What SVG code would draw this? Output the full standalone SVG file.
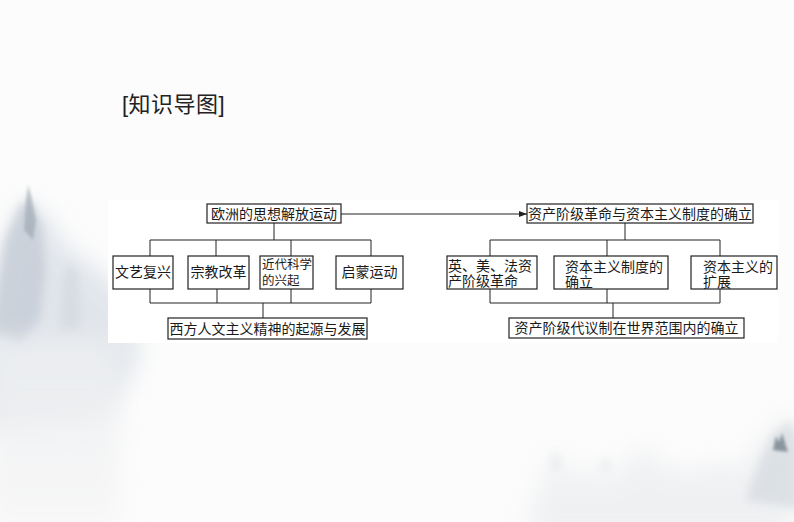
<svg xmlns="http://www.w3.org/2000/svg" width="794" height="522" viewBox="0 0 794 522">
<defs>
<style>
.box{fill:#fff;stroke:#222;stroke-width:1.2}
.t{font-family:"Liberation Serif","Noto Sans CJK SC",serif;font-size:14px;fill:#1a1a1a}
.ln{fill:none;stroke:#222;stroke-width:1}
.title{font-family:"Liberation Sans","Noto Sans CJK SC",sans-serif;font-size:22px;fill:#222;letter-spacing:0.5px}
</style>
<marker id="arr" markerWidth="8" markerHeight="6" refX="8" refY="3" orient="auto" markerUnits="userSpaceOnUse">
<path d="M0,0 L8,3 L0,6 Z" fill="#222"/>
</marker>
<linearGradient id="lowfog" x1="0" y1="0" x2="0" y2="1">
<stop offset="0" stop-color="#eceef0" stop-opacity="0.9"/>
<stop offset="1" stop-color="#f4f4f5" stop-opacity="0.6"/>
</linearGradient>
<filter id="soft" x="-100%" y="-100%" width="300%" height="300%"><feGaussianBlur stdDeviation="12"/></filter>
<filter id="mid" x="-100%" y="-100%" width="300%" height="300%"><feGaussianBlur stdDeviation="5"/></filter>
<filter id="fine" x="-100%" y="-100%" width="300%" height="300%"><feGaussianBlur stdDeviation="1.5"/></filter>
</defs>

<g id="background">
<rect x="0" y="0" width="794" height="522" fill="#fcfcfc"/>
<path d="M-20,350 L0,250 L25,200 L45,215 L70,250 L100,270 L130,300 L140,360 L100,420 L-20,430 Z" fill="#dde2e8" opacity="0.85" filter="url(#soft)"/>
<path d="M-10,330 L5,240 L20,205 L30,200 L42,225 L46,270 L40,320 L20,345 Z" fill="#c3cbd5" opacity="0.75" filter="url(#mid)"/>
<path d="M24,230 L26,200 L28,185 L31,195 L36,220 L33,240 Z" fill="#9aa3ad" opacity="0.6" filter="url(#fine)"/>
<path d="M60,330 L65,270 L72,262 L78,275 L80,330 Z" fill="#cfd5dc" opacity="0.6" filter="url(#mid)"/>
<rect x="-10" y="340" width="130" height="190" fill="url(#lowfog)" filter="url(#soft)"/>
<path d="M530,510 L545,475 L555,448 L565,470 L580,482 L590,458 L600,480 L620,472 L640,444 L660,465 L690,472 L720,462 L740,472 L760,440 L794,410 L794,540 L530,540 Z" fill="#eceef0" opacity="0.8" filter="url(#soft)"/>
<path d="M550,470 L555,448 L562,468 Z M600,470 L605,455 L612,472 Z" fill="#dfe3e7" opacity="0.7" filter="url(#mid)"/>
<path d="M745,500 L760,460 L772,435 L790,420 L800,440 L800,510 Z" fill="#d8dde2" opacity="0.8" filter="url(#mid)"/>
<path d="M773,450 L776,436 L779,442 L782,433 L786,446 L788,452 Z" fill="#6f7b86" opacity="0.75" filter="url(#fine)"/>
<rect x="108" y="200" width="670" height="143" fill="#ffffff"/>
</g>

<g id="title">
<text class="title" x="122" y="112">[知识导图]</text>
</g>

<g id="connectors">
<line class="ln" x1="341" y1="214" x2="527" y2="214" marker-end="url(#arr)"/>
<path class="ln" d="M274,223 V240 M150,240 H371 M150,240 V256 M216,240 V256 M291,240 V256 M371,240 V256"/>
<path class="ln" d="M150,289 V303 M217,289 V303 M291,289 V303 M371,289 V303 M150,303 H371 M263,303 V318"/>
<path class="ln" d="M625,223 V240 M490,240 H720 M490,240 V256 M607,240 V256 M720,240 V256"/>
<path class="ln" d="M490,289 V303 M607,289 V303 M720,289 V303 M490,303 H720 M613,303 V318"/>
</g>

<g id="n-europe">
<rect class="box" x="207" y="204" width="134" height="19"/>
<text class="t" x="274" y="219" text-anchor="middle">欧洲的思想解放运动</text>
</g>
<g id="n-bourgeois">
<rect class="box" x="527" y="204" width="226" height="19"/>
<text class="t" x="640" y="219" text-anchor="middle">资产阶级革命与资本主义制度的确立</text>
</g>

<g id="n-renaissance">
<rect class="box" x="113" y="256" width="60" height="33"/>
<text class="t" x="143" y="277" text-anchor="middle">文艺复兴</text>
</g>
<g id="n-reformation">
<rect class="box" x="188" y="256" width="61" height="33"/>
<text class="t" x="218.5" y="277" text-anchor="middle">宗教改革</text>
</g>
<g id="n-science">
<rect class="box" x="260" y="256" width="53" height="33"/>
<text class="t" x="262" y="269" style="font-size:12.5px">近代科学</text>
<text class="t" x="262" y="285" style="font-size:12.5px">的兴起</text>
</g>
<g id="n-enlightenment">
<rect class="box" x="336" y="256" width="67" height="33"/>
<text class="t" x="369.5" y="277" text-anchor="middle">启蒙运动</text>
</g>

<g id="n-humanism">
<rect class="box" x="168" y="318" width="199" height="21"/>
<text class="t" x="267.5" y="334" text-anchor="middle">西方人文主义精神的起源与发展</text>
</g>

<g id="n-revolutions">
<rect class="box" x="447" y="256" width="90" height="33"/>
<text class="t" x="448" y="271">英、美、法资</text>
<text class="t" x="448" y="286">产阶级革命</text>
</g>
<g id="n-establish">
<rect class="box" x="554" y="256" width="114" height="33"/>
<text class="t" x="565" y="272">资本主义制度的</text>
<text class="t" x="565" y="287">确立</text>
</g>
<g id="n-expansion">
<rect class="box" x="691" y="256" width="86" height="33"/>
<text class="t" x="703" y="272">资本主义的</text>
<text class="t" x="703" y="287">扩展</text>
</g>

<g id="n-parliament">
<rect class="box" x="509" y="318" width="235" height="20"/>
<text class="t" x="626.5" y="333" text-anchor="middle">资产阶级代议制在世界范围内的确立</text>
</g>
</svg>
